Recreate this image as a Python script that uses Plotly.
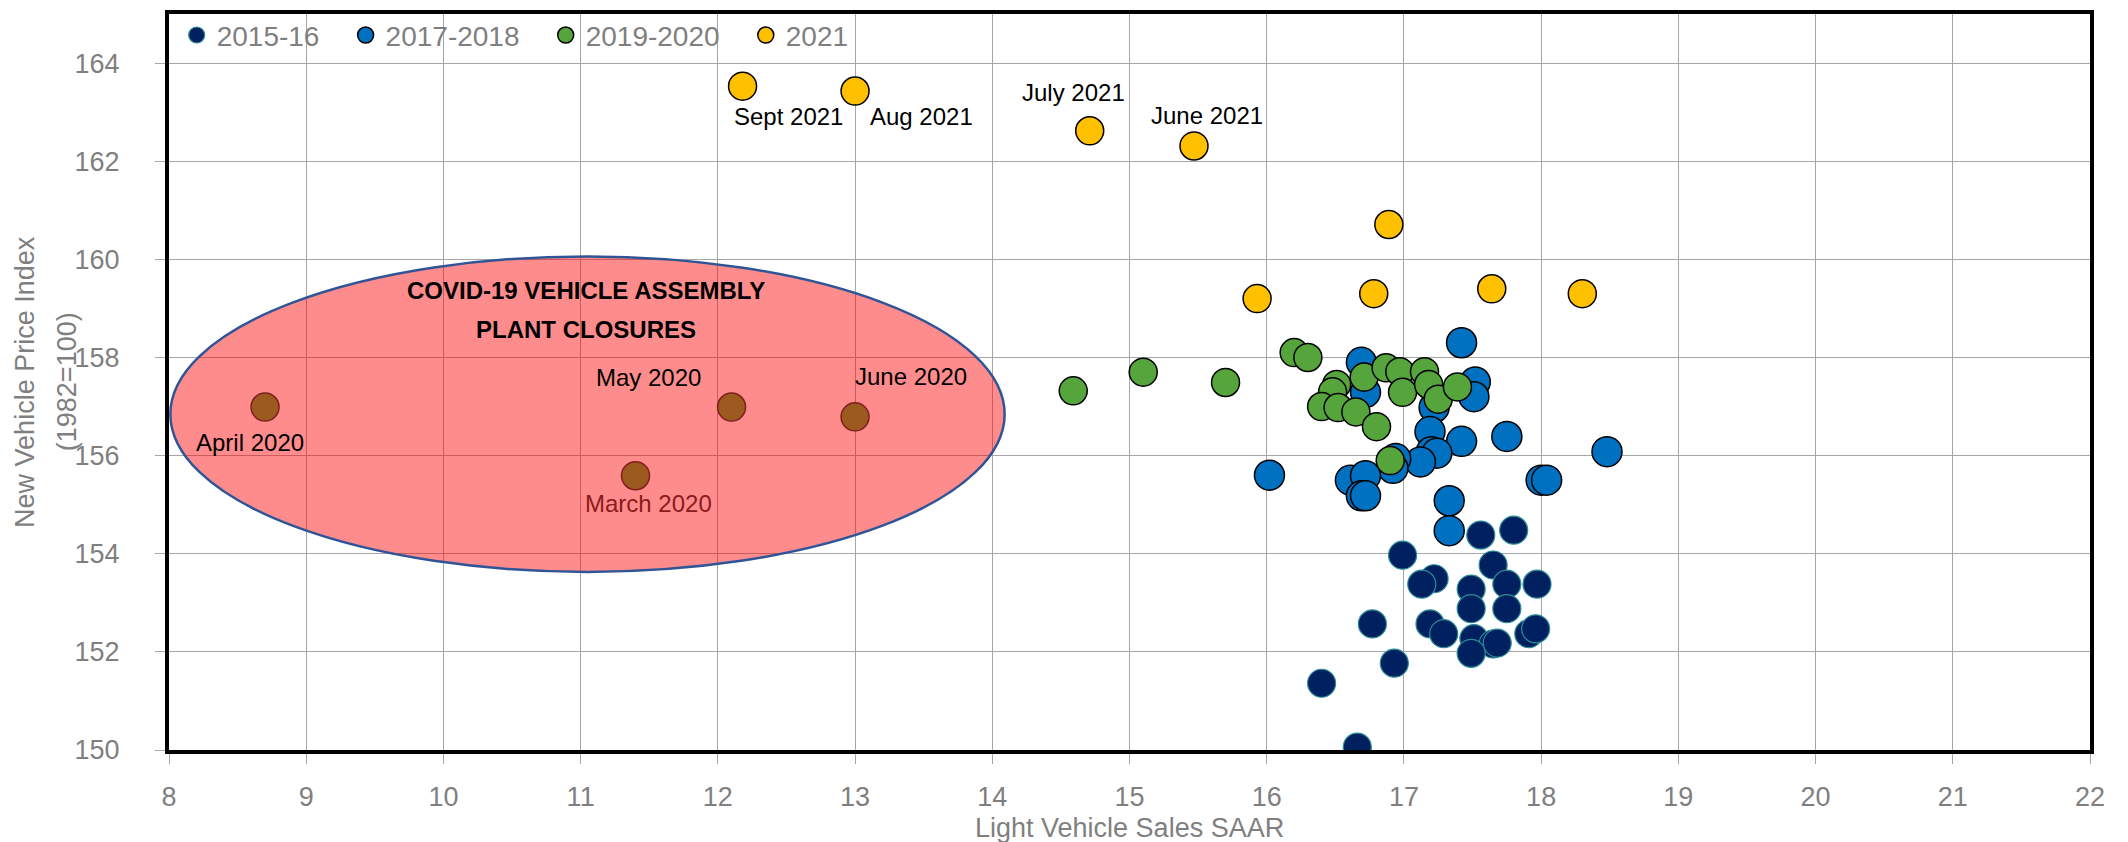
import plotly.graph_objects as go

# ---------------- data ----------------
s1516_x = [17.56, 17.80, 16.99, 17.65, 17.22, 17.13, 17.75, 17.97, 17.49, 17.49, 17.75, 16.77,
           17.19, 17.29, 17.91, 17.96, 17.51, 17.65, 17.68, 17.49, 16.93, 16.40, 16.66]
s1516_y = [154.38, 154.48, 153.97, 153.77, 153.49, 153.38, 153.38, 153.38, 153.28, 152.88, 152.88, 152.57,
           152.57, 152.37, 152.37, 152.47, 152.27, 152.16, 152.18, 151.97, 151.77, 151.36, 150.06]

s1718_x = [17.42, 16.69, 16.72, 17.52, 17.51, 17.22, 17.19, 17.42, 17.75, 18.48, 17.20, 17.24,
           17.12, 16.94, 16.92, 16.02, 18.00, 18.04, 16.61, 16.72, 16.69, 16.72, 17.33, 17.33]
s1718_y = [158.30, 157.90, 157.29, 157.50, 157.20, 156.98, 156.49, 156.29, 156.39, 156.08, 156.08, 156.05,
           155.87, 155.94, 155.74, 155.60, 155.50, 155.50, 155.50, 155.59, 155.18, 155.18, 155.08, 154.47]

s1920_x = [14.59, 15.10, 15.70, 16.20, 16.30, 16.51, 16.48, 16.40, 16.52, 16.65, 16.71, 16.80,
           16.87, 16.97, 16.99, 17.15, 17.18, 17.25, 17.39, 16.90]
s1920_y = [157.32, 157.70, 157.49, 158.10, 158.00, 157.45, 157.30, 157.00, 156.98, 156.89, 157.60, 156.59,
           157.79, 157.71, 157.29, 157.71, 157.45, 157.15, 157.40, 155.90]

covid_labels = ["April 2020", "March 2020", "May 2020", "June 2020"]
covid_x = [8.70, 11.40, 12.10, 13.00]
covid_y = [156.99, 155.59, 156.99, 156.79]

s2021_labels = ["Sept 2021", "Aug 2021", "July 2021", "June 2021", "", "", "", "", ""]
s2021_x = [12.18, 13.00, 14.71, 15.47, 16.89, 15.93, 16.78, 17.64, 18.30]
s2021_y = [163.53, 163.43, 162.62, 162.31, 160.71, 159.20, 159.30, 159.40, 159.30]

series_names = ["2015-16", "2017-2018", "2019-2020", "2021"]
x_ticks = list(range(8, 23))
y_ticks = list(range(150, 166, 2))
x_title = "Light Vehicle Sales SAAR"
y_title_lines = ["New Vehicle Price Index", "(1982=100)"]
covid_title_lines = ["COVID-19 VEHICLE ASSEMBLY", "PLANT CLOSURES"]

# ---------------- styling ----------------
FONT = "Liberation Sans, Arial, sans-serif"
GREY = "#7F7F7F"
PAD = "\u00a0\u00a0\u2009"

fig = go.Figure()

fig.add_trace(go.Scatter(x=s1516_x, y=s1516_y, mode="markers", name=series_names[0] + PAD,
                         marker=dict(size=28, color="#002060", line=dict(color="#2A8C96", width=1.2))))
fig.add_trace(go.Scatter(x=s1718_x, y=s1718_y, mode="markers", name=series_names[1] + PAD,
                         marker=dict(size=30, color="#0070C0", line=dict(color="#000000", width=1.5))))
fig.add_trace(go.Scatter(x=s1920_x, y=s1920_y, mode="markers", name=series_names[2] + PAD,
                         marker=dict(size=28, color="#56A43C", line=dict(color="#000000", width=1.5))))
fig.add_trace(go.Scatter(x=covid_x, y=covid_y, mode="markers", name="COVID", showlegend=False,
                         marker=dict(size=28, color="#9C5A1E", line=dict(color="#7F1F1F", width=1.5))))
fig.add_trace(go.Scatter(x=s2021_x, y=s2021_y, mode="markers", name=series_names[3],
                         marker=dict(size=28, color="#FFC000", line=dict(color="#000000", width=1.5))))

# ellipse for COVID closures
fig.add_shape(type="circle", xref="x", yref="y", x0=8.01, x1=14.09, y0=153.63, y1=160.06,
              fillcolor="rgba(255,0,0,0.45)", line=dict(color="#2F5597", width=2.5), layer="between")

# point labels (offsets in pixels)
covid_offsets = [(-15, -35), (13, -28), (-83, 30), (56, 40)]
covid_colors = ["#000000", "#8B1A1A", "#000000", "#000000"]
for lab, x, y, (dx, dy), c in zip(covid_labels, covid_x, covid_y, covid_offsets, covid_colors):
    fig.add_annotation(x=x, y=y, text=lab, showarrow=False, xshift=dx, yshift=dy,
                       font=dict(family=FONT, size=24, color=c))

offs_2021 = [(46, -30), (66, -25), (-16, 38), (13, 30)]
for lab, x, y, (dx, dy) in zip(s2021_labels[:4], s2021_x[:4], s2021_y[:4], offs_2021):
    fig.add_annotation(x=x, y=y, text=lab, showarrow=False, xshift=dx, yshift=dy,
                       font=dict(family=FONT, size=24, color="#000000"))

fig.add_annotation(x=11.04, y=159.36, text="<b>" + covid_title_lines[0] + "</b>", showarrow=False,
                   font=dict(family=FONT, size=24, color="#000000"))
fig.add_annotation(x=11.04, y=158.58, text="<b>" + covid_title_lines[1] + "</b>", showarrow=False,
                   font=dict(family=FONT, size=24, color="#000000"))

# axis titles
fig.add_annotation(xref="paper", yref="paper", x=0.5, y=-0.106, yanchor="middle", text=x_title,
                   showarrow=False, font=dict(family=FONT, size=27, color=GREY))
fig.add_annotation(xref="paper", yref="paper", x=-0.075, y=0.50, xanchor="center", yanchor="middle",
                   text=y_title_lines[0], textangle=-90, showarrow=False,
                   font=dict(family=FONT, size=27, color=GREY))
fig.add_annotation(xref="paper", yref="paper", x=-0.053, y=0.50, xanchor="center", yanchor="middle",
                   text=y_title_lines[1], textangle=-90, showarrow=False,
                   font=dict(family=FONT, size=27, color=GREY))

fig.update_xaxes(range=[8, 22], tickvals=x_ticks, showgrid=True, gridcolor="#A6A6A6", gridwidth=1.3,
                 zeroline=False, showline=True, linecolor="#000000", linewidth=4, mirror=True,
                 ticks="outside", ticklen=10, tickcolor="#A6A6A6", tickwidth=1.3,
                 tickfont=dict(family=FONT, size=27, color=GREY), ticklabelstandoff=10,
                 automargin=False)
fig.update_yaxes(range=[150, 165], tickvals=y_ticks, showgrid=True, gridcolor="#A6A6A6", gridwidth=1.3,
                 zeroline=False, showline=True, linecolor="#000000", linewidth=4, mirror=True,
                 ticks="outside", ticklen=10, tickcolor="#A6A6A6", tickwidth=1.3,
                 tickfont=dict(family=FONT, size=27, color=GREY), ticklabelstandoff=30,
                 automargin=False)

fig.update_layout(
    width=2120, height=834,
    margin=dict(l=161, r=38, t=2, b=92),
    paper_bgcolor="white", plot_bgcolor="white",
    font=dict(family=FONT, color=GREY),
    legend=dict(orientation="h", x=0.004, y=1.005, xanchor="left", yanchor="top",
                bgcolor="rgba(0,0,0,0)", font=dict(family=FONT, size=28, color=GREY),
                itemsizing="trace"),
)

fig.write_html("out.html")
